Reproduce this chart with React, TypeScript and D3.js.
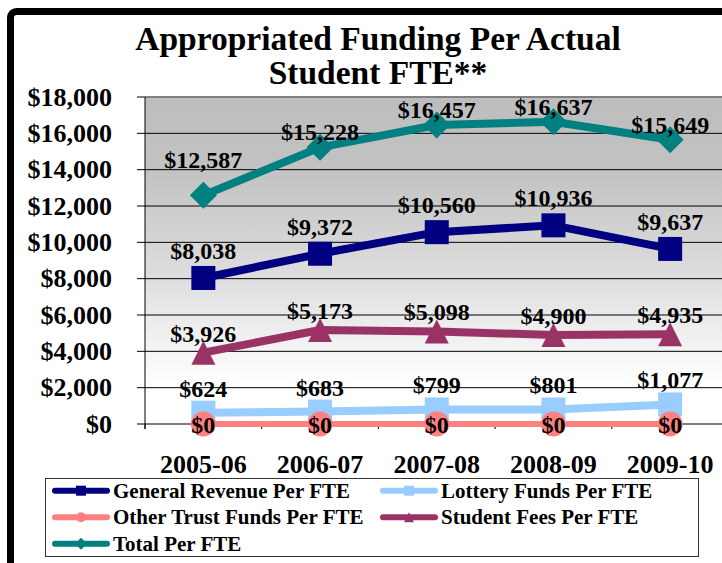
import React from "react";
import * as d3 from "d3";

const years = ["2005-06", "2006-07", "2007-08", "2008-09", "2009-10"];
const generalRevenue = [8038, 9372, 10560, 10936, 9637];
const lotteryFunds = [624, 683, 799, 801, 1077];
const otherTrustFunds = [0, 0, 0, 0, 0];
const studentFees = [3926, 5173, 5098, 4900, 4935];
const totalPerFTE = [12587, 15228, 16457, 16637, 15649];
const yTicks = [0, 2000, 4000, 6000, 8000, 10000, 12000, 14000, 16000, 18000];
const titleLines = ["Appropriated Funding Per Actual", "Student FTE**"];

type Marker = "square" | "circle" | "triangle" | "diamond";
interface Series {
  name: string;
  values: number[];
  color: string;
  marker: Marker;
  width: number;
  labelDy: number;
}

const series: Series[] = [
  { name: "General Revenue Per FTE", values: generalRevenue, color: "#000080", marker: "square", width: 8, labelDy: -19 },
  { name: "Lottery Funds Per FTE", values: lotteryFunds, color: "#99CCFF", marker: "square", width: 8, labelDy: -16 },
  { name: "Other Trust Funds Per FTE", values: otherTrustFunds, color: "#FF8080", marker: "circle", width: 6, labelDy: 9 },
  { name: "Student Fees Per FTE", values: studentFees, color: "#993366", marker: "triangle", width: 8, labelDy: -11 },
  { name: "Total Per FTE", values: totalPerFTE, color: "#008080", marker: "diamond", width: 8, labelDy: -7 },
];

const W = 722;
const H = 563;
const plotLeft = 145;
const plotTop = 97;
const plotBottom = 424;
const band = 116.7;
const FONT = "'Liberation Serif', 'Times New Roman', serif";

function markerShape(m: Marker, x: number, y: number, s: number, color: string, key?: string) {
  if (m === "square") return <rect key={key} x={x - s / 2} y={y - s / 2} width={s} height={s} fill={color} />;
  if (m === "circle") return <circle key={key} cx={x} cy={y} r={s / 2} fill={color} />;
  if (m === "triangle")
    return <path key={key} d={`M${x},${y - s / 2}L${x + s / 2},${y + s / 2}L${x - s / 2},${y + s / 2}Z`} fill={color} />;
  const h = s / 2 + 1;
  return <path key={key} d={`M${x},${y - h}L${x + h},${y}L${x},${y + h}L${x - h},${y}Z`} fill={color} />;
}

export default function App() {
  const x = d3.scalePoint<string>().domain(years).range([plotLeft, plotLeft + band * years.length]).padding(0.5);
  const y = d3.scaleLinear().domain([0, 18000]).range([plotBottom, plotTop]);
  const fmt = d3.format("$,");
  const line = d3
    .line<number>()
    .x((_, i) => x(years[i]) as number)
    .y((d) => y(d));

  const boundaries = d3.range(years.length + 1).map((i) => plotLeft + i * band);

  const legendX = 45.5;
  const legendY = 478.5;
  const legendRows = [490.7, 517.2, 543.7];
  const legendCols = [52, 380];

  return (
    <svg width={W} height={H} style={{ position: "absolute", left: 0, top: 0, background: "#fff" }} fontFamily={FONT}>
      <defs>
        <linearGradient id="bg" x1="0" y1="0" x2="0" y2="1">
          <stop offset="0" stopColor="#bdbdbd" />
          <stop offset="0.22" stopColor="#c2c2c2" />
          <stop offset="0.55" stopColor="#dedede" />
          <stop offset="0.88" stopColor="#ffffff" />
          <stop offset="1" stopColor="#ffffff" />
        </linearGradient>
      </defs>
      <rect x={0} y={0} width={W} height={H} fill="#fff" />
      {/* plot area */}
      <rect x={plotLeft} y={plotTop} width={W - plotLeft + 10} height={plotBottom - plotTop} fill="url(#bg)" />
      <line x1={plotLeft} x2={W} y1={plotTop} y2={plotTop} stroke="#808080" strokeWidth={2} />
      {yTicks.map((t) => (
        <g key={t}>
          {t > 0 && t < 18000 && <line x1={plotLeft} x2={W} y1={y(t)} y2={y(t)} stroke="#000" strokeWidth={1} />}
          <line x1={plotLeft - 8} x2={plotLeft} y1={y(t)} y2={y(t)} stroke="#000" strokeWidth={1} />
          <text x={112} y={y(t)} dy="0.33em" textAnchor="end" fontSize={26} fontWeight="bold" fill="#000">
            {fmt(t)}
          </text>
        </g>
      ))}
      <line x1={plotLeft} x2={plotLeft} y1={plotTop} y2={plotBottom + 5} stroke="#000" strokeWidth={1} />
      <line x1={plotLeft} x2={W} y1={plotBottom} y2={plotBottom} stroke="#000" strokeWidth={1} />
      {boundaries.map((b, i) => (
        <line key={i} x1={b} x2={b} y1={plotBottom} y2={plotBottom + 5} stroke="#000" strokeWidth={1} />
      ))}
      {years.map((yr) => (
        <text key={yr} x={x(yr)} y={473} textAnchor="middle" fontSize={26} fontWeight="bold" fill="#000">
          {yr}
        </text>
      ))}
      {/* series */}
      {series.map((s) => (
        <g key={s.name}>
          <path d={line(s.values) || ""} fill="none" stroke={s.color} strokeWidth={s.width} strokeLinejoin="round" />
          {s.values.map((v, i) =>
            markerShape(s.marker, x(years[i]) as number, y(v), s.marker === "circle" ? 25 : s.marker === "diamond" ? 25 : 24, s.color, `${s.name}-${i}`)
          )}
        </g>
      ))}
      {series.map((s) => (
        <g key={s.name + "-labels"}>
          {s.values.map((v, i) => (
            <text
              key={i}
              x={x(years[i]) as number}
              y={y(v) + (s.marker === "diamond" && i === 0 ? -27 : s.labelDy)}
              textAnchor="middle"
              fontSize={24}
              fontWeight="bold"
              fill="#000"
            >
              {fmt(v)}
            </text>
          ))}
        </g>
      ))}
      {/* title */}
      {titleLines.map((t, i) => (
        <text key={t} x={378} y={50 + i * 34} textAnchor="middle" fontSize={33.5} fontWeight="bold" fill="#000">
          {t}
        </text>
      ))}
      {/* legend */}
      <rect x={legendX} y={legendY} width={653} height={78} fill="#fff" stroke="#333" strokeWidth={1} />
      {series.map((s, i) => {
        const col = i % 2;
        const row = Math.floor(i / 2);
        const lx = legendCols[col];
        const ly = legendRows[row];
        return (
          <g key={s.name + "-legend"}>
            <line x1={lx + 3} x2={lx + 55} y1={ly} y2={ly} stroke={s.color} strokeWidth={6} strokeLinecap="round" />
            {markerShape(s.marker, lx + 29, ly, 10, s.color)}
            <text x={lx + 61} y={ly + 7} fontSize={21} fontWeight="bold" fill="#000">
              {s.name}
            </text>
          </g>
        );
      })}
      {/* outer frame */}
      <rect x={10.5} y={11.5} width={W + 20} height={H + 20} rx={6} fill="none" stroke="#000" strokeWidth={7} />
    </svg>
  );
}
